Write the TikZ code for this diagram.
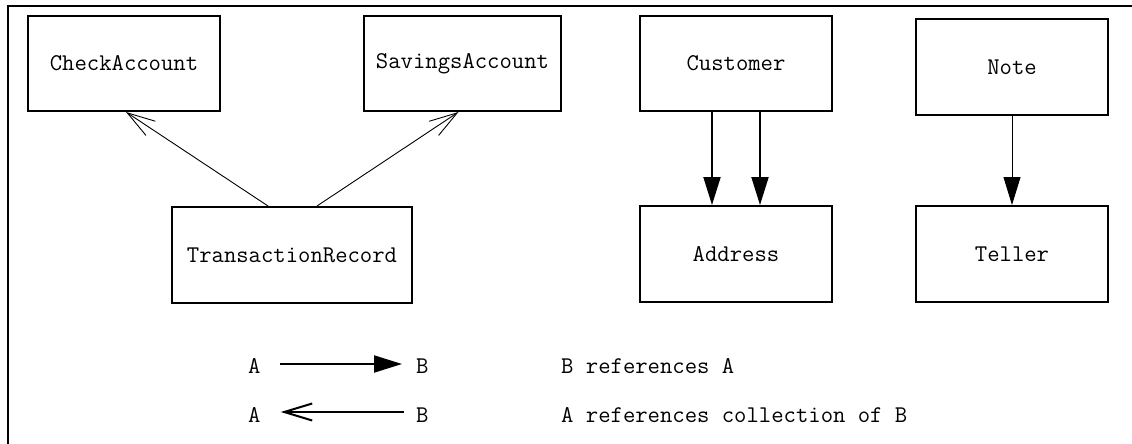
\documentclass[tikz,border=0pt]{standalone}
\usepackage{fontspec}
\usetikzlibrary{arrows.meta}
\begin{document}
\begin{tikzpicture}[x=1pt,y=-1pt,
  every node/.style={font=\ttfamily\fontsize{24}{28}\selectfont},
  classbox/.style={draw,line width=2pt,minimum height=96pt,inner sep=0pt},
  legtext/.style={inner sep=0pt,anchor=base west},
  refarrow/.style={-{Triangle[length=28pt,width=17pt]}},
  collarrow/.style={-{Straight Barb[length=28pt,width=17pt]}},
  thin link/.style={line width=0.9pt},
  thick link/.style={line width=2pt}]
\useasboundingbox (0,0) rectangle (1132,444);

% frame edges
\coordinate (fbl) at (8,444);
\coordinate (ftl) at (8,6);
\coordinate (ftr) at (1132,6);
\draw[line width=2pt] (fbl) -- (ftl) -- (ftr);

% classes
\node[classbox,minimum width=192pt,minimum height=95pt] (check) at (124,63.5) {CheckAccount};
\node[classbox,minimum width=197pt,minimum height=95pt] (sav) at (462.5,63.5) {SavingsAccount};
\node[classbox,minimum width=192pt,minimum height=95pt] (cust) at (736,63.5) {Customer};
\node[classbox,minimum width=192pt] (note) at (1012,67) {Note};
\node[classbox,minimum width=240pt] (trans) at (292,255) {TransactionRecord};
\node[classbox,minimum width=192pt] (addr) at (736,254) {Address};
\node[classbox,minimum width=192pt] (teller) at (1012,254) {Teller};

% references
\draw[thin link,collarrow] ([xshift=-24pt]trans.north) -- ([xshift=2pt]check.south);
\draw[thin link,collarrow] ([xshift=25pt]trans.north) -- ([xshift=-4pt]sav.south);
\draw[thick link,refarrow] ([xshift=-24pt]cust.south) -- ([xshift=-24pt]addr.north);
\draw[thick link,refarrow] ([xshift=24pt]cust.south) -- ([xshift=24pt]addr.north);
\draw[thin link,refarrow] (note.south) -- (teller.north);

% legend
\node[legtext] (la1) at (248,373) {A};
\node[legtext] (lb1) at (416,373) {B};
\node[legtext] (lt1) at (561,373) {B references A};
\node[legtext] (la2) at (248,422) {A};
\node[legtext] (lb2) at (416,422) {B};
\node[legtext] (lt2) at (561,422) {A references collection of B};
\draw[thick link,refarrow,shorten <=19pt,shorten >=14pt] (la1.east |- 0,364) -- (lb1.west |- 0,364);
\draw[thick link,collarrow,shorten >=20pt,shorten <=12pt] (lb2.west |- 0,412) -- (la2.east |- 0,412);
\end{tikzpicture}
\end{document}
